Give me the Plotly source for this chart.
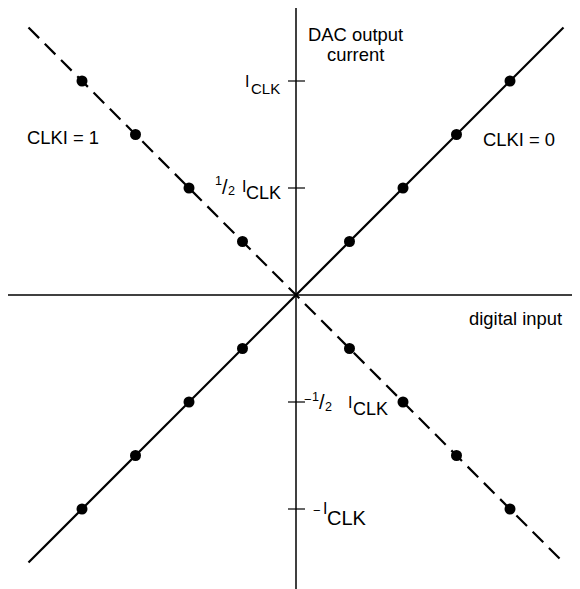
import plotly.graph_objects as go

# ---- data (units: one dot step = 1 code; I_CLK = 4 units) ----
digital_input = [-4, -3, -2, -1, 1, 2, 3, 4]
current_clki0 = [-4, -3, -2, -1, 1, 2, 3, 4]
current_clki1 = [4, 3, 2, 1, -1, -2, -3, -4]
line_x = [-5, 5]
line_clki0 = [-5, 5]
line_clki1 = [5, -5]
tick_values = [4, 2, -2, -4]

PAGE = 8                      # body margin of the html page
W, H = 580 - PAGE, 589 - PAGE
OX, OY, UNIT = 296 - PAGE, 295 - PAGE, 53.5
FONT = "Liberation Sans, Arial, sans-serif"

fig = go.Figure()
fig.add_trace(go.Scatter(x=line_x, y=line_clki0, mode="lines",
                         line=dict(color="black", width=2.2), hoverinfo="skip"))
fig.add_trace(go.Scatter(x=line_x, y=line_clki1, mode="lines",
                         line=dict(color="black", width=2.2, dash="15px,8px"), hoverinfo="skip"))
fig.add_trace(go.Scatter(x=digital_input, y=current_clki0, mode="markers",
                         marker=dict(color="black", size=11)))
fig.add_trace(go.Scatter(x=digital_input, y=current_clki1, mode="markers",
                         marker=dict(color="black", size=11)))

shapes = [
    dict(type="line", xref="paper", yref="y", x0=0, x1=1, y0=0, y1=0,
         line=dict(color="black", width=1.5)),
    dict(type="line", xref="x", yref="paper", x0=0, x1=0, y0=0, y1=1,
         line=dict(color="black", width=1.5)),
]
for tv in tick_values:
    shapes.append(dict(type="line", xref="x", yref="y", xsizemode="pixel", xanchor=0,
                       x0=-8, x1=9, y0=tv, y1=tv, line=dict(color="black", width=1.2)))

annotations = []


def piece(text, tick, xs, ys, size):
    """label piece placed relative to the axis point (0, tick), shifts in pixels"""
    annotations.append(dict(text=text, x=0, y=tick, xref="x", yref="y",
                            xanchor="left", yanchor="middle", showarrow=False,
                            xshift=xs, yshift=ys, borderpad=0,
                            font=dict(family=FONT, size=size, color="black")))


# I_CLK
piece("I", 4, -52.5, 0, 16)
piece("CLK", 4, -45.7, -7, 15)
# 1/2 I_CLK
piece("1", 2, -82.4, 7.5, 12.6)
piece("/", 2, -75.4, 1, 20)
piece("2", 2, -69.4, -2.5, 12.6)
piece("I", 2, -55.5, 2, 16)
piece("CLK", 2, -51.4, -5, 18)
# -1/2 I_CLK
piece("\u2212", -2, 7, 2.5, 13)
piece("1", -2, 14.6, 5.5, 12.6)
piece("/", -2, 21.6, 0, 20)
piece("2", -2, 27.6, -5, 12.6)
piece("I", -2, 50.5, -0.5, 16)
piece("CLK", -2, 56.1, -7, 18)
# -I_CLK
piece("\u2212", -4, 16, -1, 13)
piece("I", -4, 25.5, 1, 16)
piece("CLK", -4, 30, -8.5, 20)


def free_text(text, px, py, anchor="left", size=18.4):
    annotations.append(dict(text=text, x=(px - PAGE) / W, y=1 - (py - PAGE) / H,
                            xref="paper", yref="paper",
                            xanchor=anchor, yanchor="middle", showarrow=False,
                            font=dict(family=FONT, size=size, color="black")))


free_text("CLKI = 1", 25, 137)
free_text("CLKI = 0", 481, 139)
free_text("DAC output", 355, 35, anchor="center")
free_text("current", 355, 54, anchor="center")
free_text("digital input", 467, 318)

fig.update_layout(
    width=W, height=H, margin=dict(l=0, r=0, t=0, b=0),
    paper_bgcolor="white", plot_bgcolor="white", showlegend=False,
    xaxis=dict(range=[-OX / UNIT, (W - OX) / UNIT], visible=False, fixedrange=True),
    yaxis=dict(range=[-(H - OY) / UNIT, OY / UNIT], visible=False, fixedrange=True),
    shapes=shapes, annotations=annotations,
)
fig.write_html("out.html", config={"displayModeBar": False})
